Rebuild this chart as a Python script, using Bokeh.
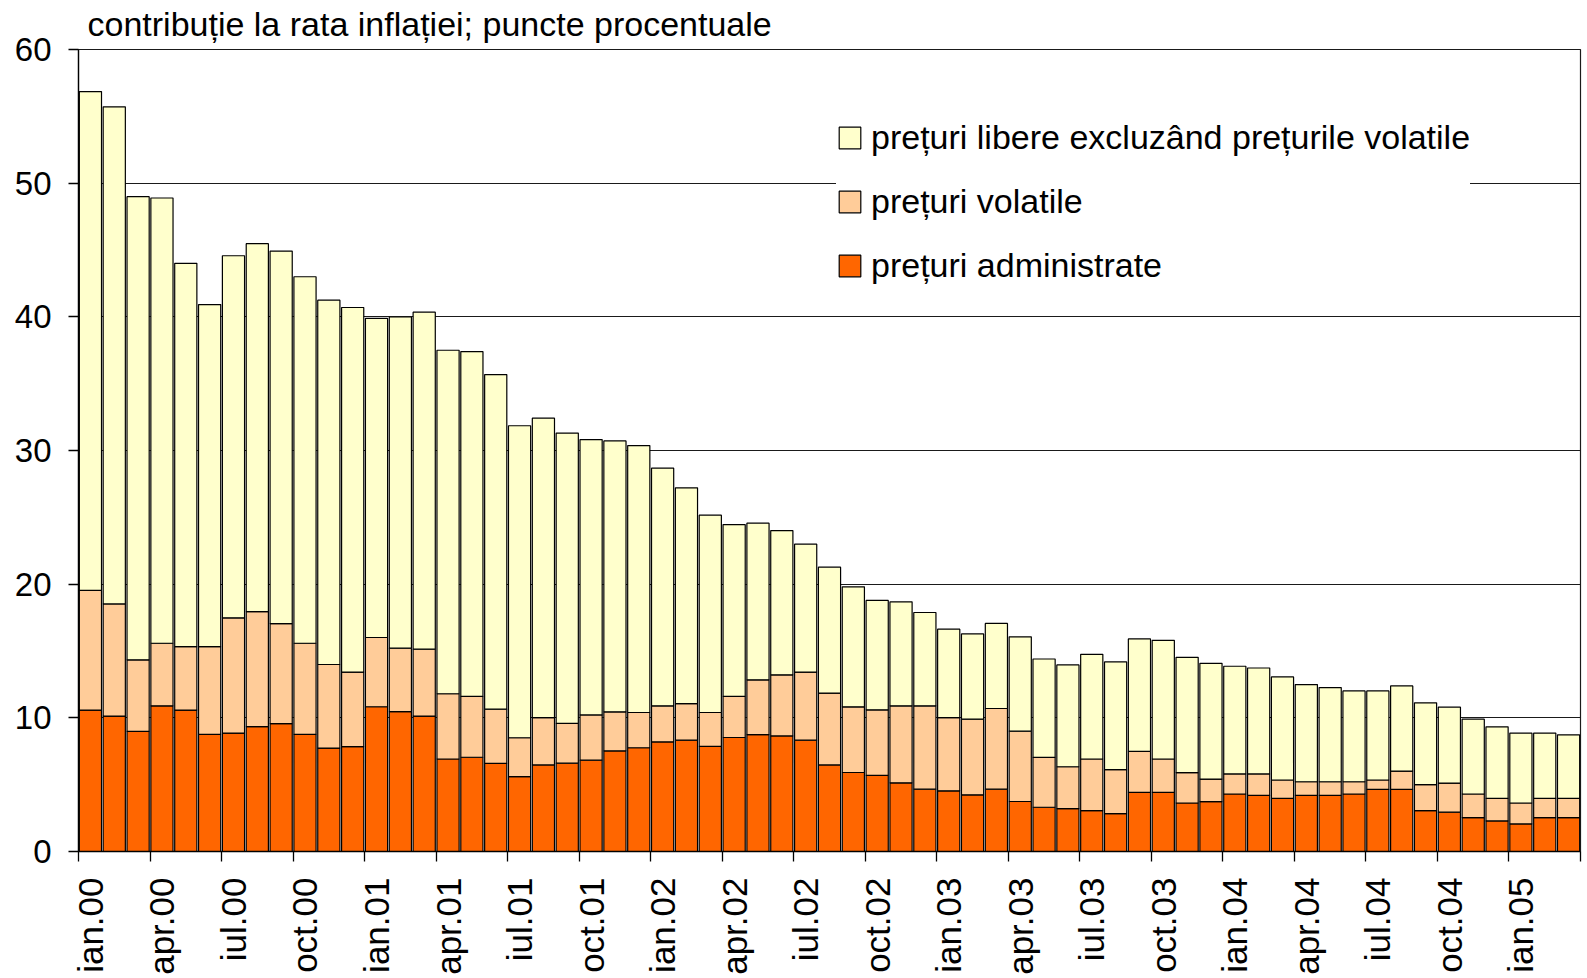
import math
import numpy as np
from bokeh.plotting import figure
from bokeh.models import (ColumnDataSource, Range1d, FixedTicker, Legend, LegendItem, Title)
from bokeh.embed import file_html
from bokeh.resources import INLINE

# ---- data ----
quarter_labels = ["ian.00", "apr.00", "iul.00", "oct.00",
                  "ian.01", "apr.01", "iul.01", "oct.01",
                  "ian.02", "apr.02", "iul.02", "oct.02",
                  "ian.03", "apr.03", "iul.03", "oct.03",
                  "ian.04", "apr.04", "iul.04", "oct.04",
                  "ian.05"]

# top of the "prețuri administrate" segment
admin = [10.58, 10.13, 8.99, 10.90, 10.58, 8.76, 8.86, 9.34, 9.56, 8.76, 7.74, 7.84,
         10.83, 10.46, 10.13, 6.92, 7.05, 6.60, 5.60, 6.48, 6.61, 6.83, 7.53, 7.76,
         8.20, 8.33, 7.86, 8.53, 8.75, 8.65, 8.33, 6.48, 5.91, 5.69, 5.14, 4.66,
         4.54, 4.24, 4.66, 3.74, 3.31, 3.21, 3.06, 2.84, 4.43, 4.43, 3.63, 3.73,
         4.30, 4.20, 3.98, 4.20, 4.20, 4.30, 4.65, 4.65, 3.06, 2.94, 2.54, 2.29,
         2.06, 2.54, 2.54]

# top of the "prețuri volatile" segment (admin + volatile)
admin_plus_volatile = [19.54, 18.52, 14.34, 15.58, 15.33, 15.33, 17.48, 17.95, 17.05, 15.58, 13.99, 13.42,
                       16.01, 15.21, 15.14, 11.80, 11.60, 10.65, 8.51, 10.02, 9.58, 10.22, 10.45, 10.40,
                       10.90, 11.07, 10.40, 11.60, 12.84, 13.22, 13.42, 11.85, 10.82, 10.60, 10.90, 10.90,
                       10.02, 9.90, 10.70, 9.00, 7.04, 6.34, 6.92, 6.12, 7.49, 6.92, 5.90, 5.42,
                       5.80, 5.80, 5.35, 5.22, 5.22, 5.22, 5.35, 6.02, 5.00, 5.12, 4.30, 3.98,
                       3.63, 3.98, 3.98]

# total height of the bar
total = [56.85, 55.71, 48.99, 48.89, 44.00, 40.92, 44.57, 45.47, 44.92, 43.00, 41.25, 40.70,
         39.88, 40.00, 40.35, 37.50, 37.40, 35.68, 31.85, 32.42, 31.30, 30.82, 30.72, 30.37,
         28.68, 27.21, 25.16, 24.46, 24.56, 24.01, 22.99, 21.27, 19.80, 18.78, 18.68, 17.88,
         16.63, 16.28, 17.06, 16.06, 14.40, 13.96, 14.75, 14.18, 15.90, 15.80, 14.53, 14.08,
         13.86, 13.73, 13.06, 12.49, 12.26, 12.01, 12.01, 12.39, 11.12, 10.80, 9.90, 9.33,
         8.86, 8.86, 8.73]

series_names = ["prețuri administrate", "prețuri volatile",
                "prețuri libere excluzând prețurile volatile"]
series_colors = ["#FF6600", "#FFCC99", "#FFFFCC"]

n = len(total)
a = np.array(admin)
av = np.array(admin_plus_volatile)
t = np.array(total)
source = ColumnDataSource(dict(
    x=np.arange(n),
    adm=a,
    vol=av - a,
    lib=t - av,
))

FONT = "Liberation Sans"

p = figure(width=1586, height=977, output_backend="svg", toolbar_location=None,
           x_range=Range1d(-0.5, n - 0.5), y_range=Range1d(0, 60),
           min_border_left=78, min_border_right=6, min_border_top=49, min_border_bottom=126)

p.title = Title(text="contribuție la rata inflației; puncte procentuale",
                text_font=FONT, text_font_size="34px", text_font_style="normal",
                text_color="black", align="left", offset=9, standoff=9,
                vertical_align="top")

renderers = p.vbar_stack(["adm", "vol", "lib"], x="x", width=0.93, source=source,
                         fill_color=series_colors, line_color="black", line_width=1.2)

legend = Legend(items=[LegendItem(label=series_names[2], renderers=[renderers[2]]),
                       LegendItem(label=series_names[1], renderers=[renderers[1]]),
                       LegendItem(label=series_names[0], renderers=[renderers[0]])],
                location=(758, 566))
legend.label_text_font = FONT
legend.label_text_font_size = "34px"
legend.label_text_color = "black"
legend.glyph_width = 27
legend.glyph_height = 27
legend.label_height = 40
legend.spacing = 24
legend.label_standoff = 8
legend.padding = 12
legend.margin = 0
legend.border_line_color = None
legend.background_fill_color = "white"
legend.background_fill_alpha = 1.0
p.add_layout(legend, "center")

# grid & frame
p.xgrid.visible = False
p.ygrid.ticker = FixedTicker(ticks=[10, 20, 30, 40, 50, 60])
p.ygrid.grid_line_color = "#1a1a1a"
p.ygrid.grid_line_width = 1.2
p.outline_line_color = "#1a1a1a"
p.outline_line_width = 1.2
p.background_fill_color = "white"
p.border_fill_color = "white"

# y axis
p.yaxis.ticker = FixedTicker(ticks=[0, 10, 20, 30, 40, 50, 60])
p.yaxis.major_label_text_font = FONT
p.yaxis.major_label_text_font_size = "33px"
p.yaxis.major_label_text_color = "black"
p.yaxis.major_tick_out = 10
p.yaxis.major_tick_in = 0
p.yaxis.minor_tick_line_color = None
p.yaxis.major_label_standoff = 17
p.yaxis.axis_line_color = "black"
p.yaxis.axis_line_width = 1.3
p.yaxis.major_tick_line_color = "black"
p.yaxis.major_tick_line_width = 1.3

# x axis: labels under first month of every quarter, tick marks at quarter boundaries
label_pos = list(range(0, n - 2, 3))
boundaries = [i - 0.5 for i in range(0, n + 1, 3)]
p.xaxis.ticker = FixedTicker(ticks=label_pos, minor_ticks=boundaries)
p.xaxis.major_label_overrides = {pos: lab for pos, lab in zip(label_pos, quarter_labels)}
p.xaxis.major_label_orientation = math.pi / 2
p.xaxis.major_label_text_font = FONT
p.xaxis.major_label_text_font_size = "35px"
p.xaxis.major_label_text_color = "black"
p.xaxis.major_tick_line_color = None
p.xaxis.major_tick_out = 0
p.xaxis.major_tick_in = 0
p.xaxis.major_label_standoff = 16
p.xaxis.minor_tick_out = 10
p.xaxis.minor_tick_in = 0
p.xaxis.minor_tick_line_color = "black"
p.xaxis.minor_tick_line_width = 1.3
p.xaxis.axis_line_color = "black"
p.xaxis.axis_line_width = 1.3

open("out.html", "w").write(file_html(p, INLINE))
